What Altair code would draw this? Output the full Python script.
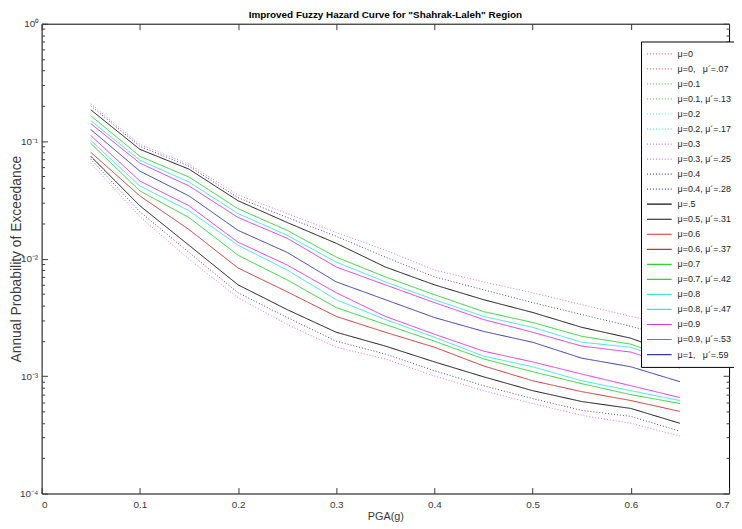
import altair as alt
import pandas as pd

# ---------------- data ----------------
pga = [0.05, 0.10, 0.15, 0.20, 0.25, 0.30, 0.35, 0.40, 0.45, 0.50, 0.55, 0.60, 0.65]

mu03_upper = [0.208, 0.0939, 0.0637, 0.0349, 0.0242, 0.0167, 0.0118, 0.0080, 0.00634, 0.00512, 0.00406, 0.00322, 0.00260]
mu03_lower = [0.0650, 0.0228, 0.0099, 0.00465, 0.00275, 0.00176, 0.00140, 0.00100, 0.000751, 0.000584, 0.000463, 0.000396, 0.000308]
mu04_upper = [0.200, 0.0903, 0.0613, 0.0330, 0.0224, 0.0155, 0.0103, 0.00699, 0.00543, 0.00422, 0.00334, 0.00265, 0.00206]
mu04_lower = [0.0702, 0.0251, 0.0113, 0.00512, 0.00315, 0.00198, 0.00154, 0.00111, 0.000828, 0.000643, 0.000510, 0.000454, 0.000339]
mu05_upper = [0.185, 0.0852, 0.0578, 0.0311, 0.0203, 0.0135, 0.00848, 0.00598, 0.00447, 0.00348, 0.00260, 0.00210, 0.00148]
mu05_lower = [0.0744, 0.0282, 0.0130, 0.00598, 0.00368, 0.00236, 0.00180, 0.00132, 0.000986, 0.000751, 0.000607, 0.000530, 0.000396]
mu06_lower = [0.0804, 0.0342, 0.0177, 0.00832, 0.00522, 0.00322, 0.00236, 0.00176, 0.00122, 0.000912, 0.000737, 0.000619, 0.000500]
mu07_upper = [0.1647, 0.0744, 0.0495, 0.0266, 0.0174, 0.0103, 0.00699, 0.00493, 0.00354, 0.00286, 0.00218, 0.00187, 0.00132]
mu07_lower = [0.0957, 0.0377, 0.0224, 0.0107, 0.00659, 0.00383, 0.00275, 0.00198, 0.00140, 0.00109, 0.000861, 0.000695, 0.000584]
mu08_upper = [0.1495, 0.0689, 0.0449, 0.0242, 0.0158, 0.00934, 0.00634, 0.00447, 0.00322, 0.00260, 0.00194, 0.00176, 0.00124]
mu08_lower = [0.1015, 0.0416, 0.0256, 0.0130, 0.0080, 0.00447, 0.00303, 0.00214, 0.00148, 0.00120, 0.000912, 0.000751, 0.000619]
mu09_upper = [0.1411, 0.0650, 0.0416, 0.0224, 0.0149, 0.00848, 0.00598, 0.00422, 0.00303, 0.00236, 0.00180, 0.00160, 0.00117]
mu09_lower = [0.1117, 0.0458, 0.0282, 0.0138, 0.00882, 0.00512, 0.00322, 0.00227, 0.00163, 0.00132, 0.00104, 0.000828, 0.000656]
mu10 = [0.1256, 0.0556, 0.0342, 0.0174, 0.0113, 0.00634, 0.00447, 0.00315, 0.00240, 0.00194, 0.00142, 0.00120, 0.000895]

NB = "\u00a0"
labels = [
    "μ=0", "μ=0," + NB * 3 + "μ´=.07",
    "μ=0.1", "μ=0.1, μ´=.13",
    "μ=0.2", "μ=0.2, μ´=.17",
    "μ=0.3", "μ=0.3, μ´=.25",
    "μ=0.4", "μ=0.4, μ´=.28",
    "μ=.5", "μ=0.5, μ´=.31",
    "μ=0.6", "μ=0.6, μ´=.37",
    "μ=0.7", "μ=0.7, μ´=.42",
    "μ=0.8", "μ=0.8, μ´=.47",
    "μ=0.9", "μ=0.9, μ´=.53",
    "μ=1," + NB * 3 + "μ´=.59",
]
# curves that can be told apart in the figure (the others lie hidden under these)
visible = {
    "μ=0.3": mu03_lower, "μ=0.3, μ´=.25": mu03_upper,
    "μ=0.4": mu04_lower, "μ=0.4, μ´=.28": mu04_upper,
    "μ=.5": mu05_lower, "μ=0.5, μ´=.31": mu05_upper,
    "μ=0.6": mu06_lower,
    "μ=0.7": mu07_lower, "μ=0.7, μ´=.42": mu07_upper,
    "μ=0.8": mu08_lower, "μ=0.8, μ´=.47": mu08_upper,
    "μ=0.9": mu09_lower, "μ=0.9, μ´=.53": mu09_upper,
    labels[-1]: mu10,
}
colors = [
    "#ee6a6a", "#ee6a6a",
    "#55d455", "#55d455",
    "#55e0e0", "#55e0e0",
    "#e070e0", "#e070e0",
    "#4848b8", "#4848b8",
    "#111111", "#111111",
    "#d03232", "#d03232",
    "#33d033", "#33d033",
    "#3be4e4", "#3be4e4",
    "#e035e0", "#e035e0",
    "#3535b5",
]
dot = [1, 2]
solid = [1, 0]
dashes = [dot] * 10 + [solid] * 11

x_ticks = [0, 0.1, 0.2, 0.3, 0.4, 0.5, 0.6, 0.7]
y_major = [1e-4, 1e-3, 1e-2, 1e-1, 1]
y_minor = [k * 10.0 ** e for e in (-4, -3, -2, -1) for k in range(2, 10)]

rows = []
for lab in labels:
    if lab in visible:
        for xv, yv in zip(pga, visible[lab]):
            rows.append({"pga": xv, "p": yv, "series": lab})
df = pd.DataFrame(rows)

FONT = "Liberation Sans, Arial, sans-serif"
AX = "#3a3a3a"

xs = alt.Scale(domain=[0, 0.7], nice=False, zero=False)
ys = alt.Scale(type="log", domain=[1e-4, 1], nice=False)

y_label_expr = (
    "datum.value > 0.5 ? '10⁰' : datum.value > 0.05 ? '10⁻¹' : "
    "datum.value > 0.005 ? '10⁻²' : datum.value > 0.0005 ? '10⁻³' : '10⁻⁴'"
)
x_label_expr = "datum.value == 0 ? '0' : format(datum.value, '.1f')"

leg = alt.Legend(
    title=None, orient="none", legendX=606, legendY=18,
    symbolType="stroke", symbolSize=625, symbolStrokeWidth=1.2,
    labelFont=FONT, labelFontSize=9, labelColor="#1a1a1a",
    strokeColor="#000000", fillColor="#ffffff", padding=5,
    clipHeight=15, rowPadding=0.2, labelLimit=300, labelOffset=5,
)

lines = alt.Chart(df).mark_line(strokeWidth=1, clip=True).encode(
    x=alt.X("pga:Q", scale=xs, axis=alt.Axis(
        orient="bottom", values=x_ticks, labelExpr=x_label_expr,
        tickSize={"expr": "-6"}, labelPadding=12, domain=False, grid=False,
        title="PGA(g)", titleFont=FONT, titleFontSize=11, titleFontWeight="normal",
        titleColor=AX, titlePadding=1, labelFont=FONT, labelFontSize=10, labelColor=AX,
        tickColor=AX)),
    y=alt.Y("p:Q", scale=ys, axis=alt.Axis(
        orient="left", values=y_major, labelExpr=y_label_expr,
        tickSize={"expr": "-6"}, labelPadding=10, domain=False, grid=False,
        title="Annual Probability of Exceedance", titleFont=FONT, titleFontSize=14,
        titleFontWeight="normal", titleColor=AX, titlePadding=-4,
        labelFont=FONT, labelFontSize=10, labelColor=AX, tickColor=AX)),
    color=alt.Color("series:N", scale=alt.Scale(domain=labels, range=colors), legend=leg),
    strokeDash=alt.StrokeDash("series:N", scale=alt.Scale(domain=labels, range=dashes), legend=leg),
)

ghost = alt.Chart(df).mark_point(opacity=0)

top_leftminor = ghost.encode(
    x=alt.X("pga:Q", scale=xs, axis=alt.Axis(
        orient="top", values=x_ticks, labels=False, tickSize={"expr": "-6"},
        domain=False, grid=False, title=None, tickColor=AX)),
    y=alt.Y("p:Q", scale=ys, axis=alt.Axis(
        orient="left", values=y_minor, labels=False, tickSize={"expr": "-3"},
        domain=False, grid=False, title=None, tickColor=AX)),
)
right_major = ghost.encode(
    x=alt.X("pga:Q", scale=xs, axis=None),
    y=alt.Y("p:Q", scale=ys, axis=alt.Axis(
        orient="right", values=y_major, labels=False, tickSize={"expr": "-6"},
        domain=False, grid=False, title=None, tickColor=AX)),
)
right_minor = ghost.encode(
    x=alt.X("pga:Q", scale=xs, axis=None),
    y=alt.Y("p:Q", scale=ys, axis=alt.Axis(
        orient="right", values=y_minor, labels=False, tickSize={"expr": "-3"},
        domain=False, grid=False, title=None, tickColor=AX)),
)

chart = alt.layer(lines, top_leftminor, right_major, right_minor).resolve_axis(
    x="independent", y="independent"
).properties(
    width=695, height=475,
    title=alt.TitleParams(
        'Improved Fuzzy Hazard Curve for "Shahrak-Laleh" Region',
        font=FONT, fontSize=10, fontWeight="bold", color="#000000",
        anchor="middle", offset=-1),
    autosize=alt.AutoSizeParams(type="none"),
    padding={"left": 34, "top": 13, "right": 5, "bottom": 33},
).configure_view(stroke="#000000", strokeWidth=1)

chart.save("out.html", embed_options={"renderer": "svg", "actions": False})
